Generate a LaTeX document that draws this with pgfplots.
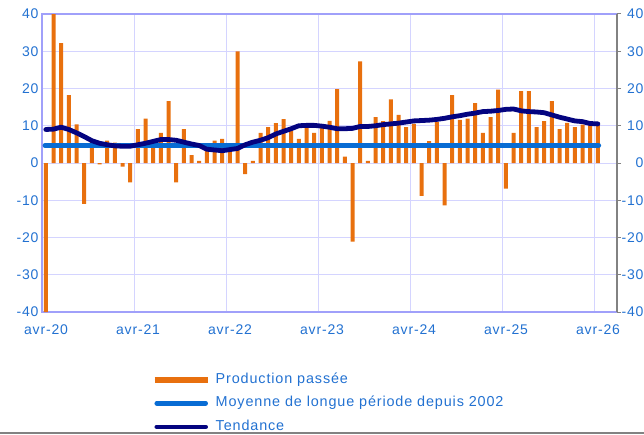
\documentclass[border=0pt]{standalone}
\usepackage{fontspec}
\setmainfont{Liberation Sans}[LetterSpace=6]
\usepackage{pgfplots}
\usepackage{pgfplotstable}
\pgfplotsset{compat=1.18}

\definecolor{barorange}{RGB}{232,112,14}
\definecolor{meanblue}{RGB}{8,108,212}
\definecolor{trendnavy}{RGB}{4,4,128}
\definecolor{labelblue}{RGB}{34,113,209}
\definecolor{lavframe}{RGB}{160,160,250}
\definecolor{gridlav}{RGB}{212,212,255}
\definecolor{rightgray}{RGB}{130,130,130}

% month index (0 = avr-20), past production balance, trend
\pgfplotstableread{
m  bar    trend
0  -40    9.0
1  40     9.1
2  32.2   9.6
3  18.2   9.0
4  10.4   8.1
5  -11    7.1
6  5.6    6.0
7  -0.4   5.3
8  6.0    4.9
9  5.5    4.6
10 -1.0   4.5
11 -5.2   4.5
12 9.1    4.9
13 11.9   5.3
14 4.5    5.8
15 8.1    6.3
16 16.6   6.3
17 -5.2   6.1
18 9.1    5.6
19 2.1    5.1
20 0.6    4.7
21 3.5    3.7
22 6.0    3.5
23 6.5    3.3
24 3.4    3.6
25 30.0   3.9
26 -3.0   4.9
27 0.6    5.6
28 8.1    6.1
29 9.6    6.8
30 10.7   7.8
31 11.8   8.5
32 8.7    9.2
33 6.5    10.0
34 9.4    10.1
35 8.1    10.1
36 10.3   9.9
37 11.3   9.6
38 19.8   9.2
39 1.7    9.2
40 -21.1  9.3
41 27.3   9.8
42 0.6    9.8
43 12.3   10.0
44 11.25  10.3
45 17.1   10.5
46 12.9   10.7
47 9.6    11.0
48 10.5   11.3
49 -8.8   11.4
50 5.9    11.5
51 11.0   11.7
52 -11.4  12.0
53 18.2   12.4
54 11.6   12.7
55 11.9   13.1
56 16.1   13.4
57 8.1    13.8
58 12.3   13.9
59 19.7   14.1
60 -6.9   14.4
61 8.1    14.5
62 19.3   14.0
63 19.3   13.8
64 9.6    13.7
65 11.25  13.5
66 16.6   12.9
67 9.1    12.3
68 10.8   11.8
69 9.6    11.3
70 10.3   11.1
71 10.5   10.6
72 10.5   10.5
}\prodtable

\begin{document}
\begin{tikzpicture}[x=1pt,y=1pt]
\useasboundingbox (-42,-122) rectangle (602,312);
\begin{axis}[
    at={(0,0)}, anchor=south west,
    width=575pt, height=298pt, scale only axis,
    xmin=0, xmax=75, ymin=-40, ymax=40,
    axis line style={lavframe, line width=1.5pt},
    xtick={0,12,24,36,48,60,72},
    xticklabels={avr-20,avr-21,avr-22,avr-23,avr-24,avr-25,avr-26},
    ytick={-40,-30,...,40},
    major tick length=0pt,
    grid=major,
    major grid style={gridlav, line width=0.9pt},
    tick label style={font=\fontsize{14}{16}\selectfont, text=labelblue},
    xticklabel style={xshift=4pt, yshift=-9pt},
    /pgf/number format/assume math mode=true,
    legend style={at={(axis description cs:0.1905,-0.205)}, anchor=north west,
        draw=none, fill=none, inner sep=0pt,
        font=\fontsize{14.4}{16}\selectfont, text=labelblue,
        nodes={inner sep=0pt, text height=10pt, text depth=3pt},
        row sep=10.5pt},
    legend cell align=left,
]
\addplot[ybar, bar width=4pt, bar shift=0pt, fill=barorange, draw=none,
    legend image code/.code={\path[draw=none, fill=none] (0pt,0pt) -- (61pt,0pt);
        \draw[line width=6pt, barorange] (0pt,0pt) -- (53pt,0pt);}]
    table[x expr=\thisrow{m}+0.5, y=bar] {\prodtable};
\addlegendentry{Production passée}
\addplot[meanblue, line width=5pt, line cap=round,
    legend image code/.code={\path[draw=none, fill=none] (0pt,0pt) -- (61pt,0pt);
        \draw[meanblue, line width=4.5pt, line cap=round] (2pt,0pt) -- (51pt,0pt);}]
    coordinates {(0.4,4.7) (72.6,4.7)};
\addlegendentry{Moyenne de longue période depuis 2002}
\addplot[trendnavy, line width=4.8pt, line cap=round, line join=round,
    legend image code/.code={\path[draw=none, fill=none] (0pt,0pt) -- (61pt,0pt);
        \draw[trendnavy, line width=4.5pt, line cap=round] (2pt,0pt) -- (51pt,0pt);}]
    table[x expr=\thisrow{m}+0.5, y=trend] {\prodtable};
\addlegendentry{Tendance}
\end{axis}
\begin{axis}[
    at={(0,0)}, anchor=south west,
    width=575pt, height=298pt, scale only axis,
    xmin=0, xmax=75, ymin=-40, ymax=40,
    axis x line=none, axis y line*=right,
    y axis line style={rightgray, line width=1.5pt, -},
    ytick={-40,-30,...,40},
    tick style={rightgray, line width=1pt},
    tick align=outside, major tick length=4pt,
    tick label style={font=\fontsize{14}{16}\selectfont, text=labelblue},
    yticklabel style={anchor=east, xshift=26pt},
    /pgf/number format/assume math mode=true,
]
\end{axis}
\draw[rightgray, line width=2pt] (-42,-121) -- (602,-121);
\end{tikzpicture}
\end{document}
